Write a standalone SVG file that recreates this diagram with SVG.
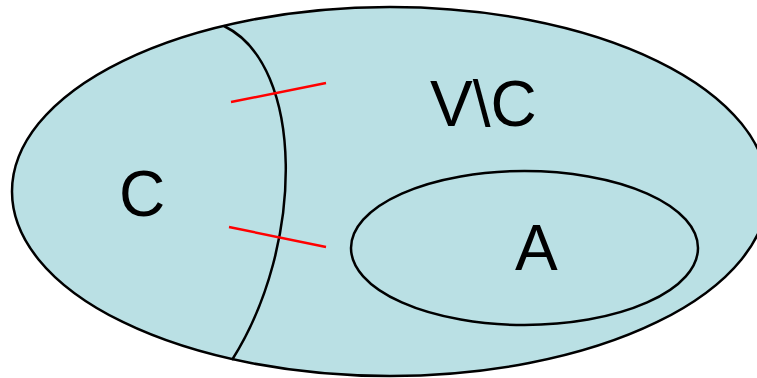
<svg xmlns="http://www.w3.org/2000/svg" width="757" height="378" viewBox="0 0 757 378">
<style>
.set{fill:#bae0e4;stroke:#000;stroke-width:2.5}
.ln{fill:none;stroke:#000;stroke-width:2.5}
.cut{stroke:#ff0000;stroke-width:2.5}
text{font-family:"Liberation Sans",Arial,sans-serif;font-size:64px;fill:#000}
</style>
<rect width="757" height="378" fill="#fff"/>
<g id="V">
<ellipse class="set" cx="390" cy="191.5" rx="378" ry="184.5"/>
<text x="430" y="126">V\C</text>
</g>
<g id="A">
<ellipse class="set" cx="524.5" cy="248" rx="173.5" ry="77"/>
<text x="515" y="270">A</text>
</g>
<g id="C">
<text x="119" y="216">C</text>
</g>
<g id="connectors">
<path class="ln" d="M224,26 C305,65 305,245 232,360"/>
<line class="cut" x1="231" y1="102" x2="326" y2="83"/>
<line class="cut" x1="229" y1="227" x2="326" y2="247"/>
</g>
</svg>
